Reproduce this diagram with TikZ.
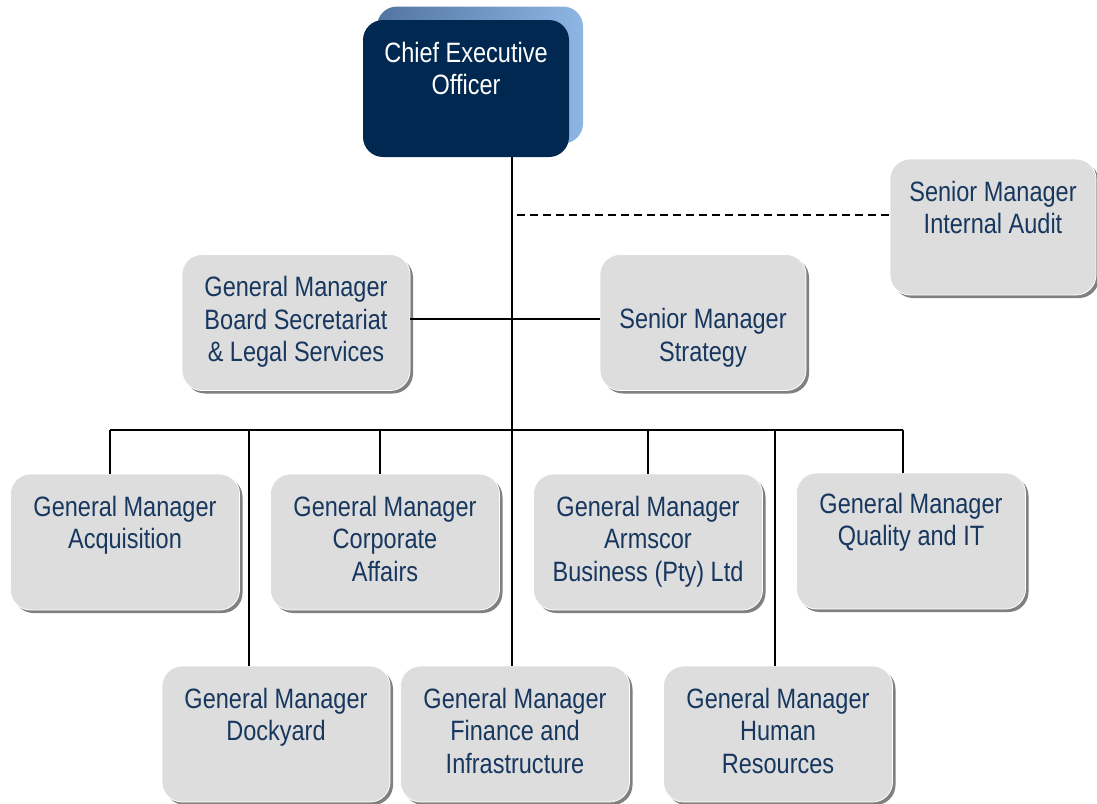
\documentclass[tikz,border=0pt]{standalone}
\usepackage{fontspec}
\setmainfont{Liberation Sans}[FakeStretch=0.84]
\usetikzlibrary{positioning,shadows,calc}
\definecolor{armnavy}{RGB}{0,40,80}
\definecolor{armtext}{RGB}{23,55,94}
\definecolor{armgrey}{RGB}{221,221,221}
\definecolor{armedge}{RGB}{142,182,228}
\definecolor{armtop}{RGB}{82,116,160}

\begin{document}
\begin{tikzpicture}[
      x=1pt, y=-1pt,
      card/.style={rounded corners=20pt, fill=armgrey, draw=white, line width=0.8pt, minimum width=229pt, minimum height=136pt, inner sep=0pt,
        drop shadow={shadow xshift=3pt, shadow yshift=-3pt, fill=black!50, opacity=1}},
      cardtext/.style={anchor=north, yshift=-22pt, align=center, text=armtext, inner sep=0pt, font=\fontsize{28}{32.5}\selectfont},
      ceobox/.style={rounded corners=20pt, fill=armnavy, minimum width=206pt, minimum height=137pt, inner sep=0pt},
      ceoback/.style={rounded corners=20pt, left color=armtop, right color=armedge, minimum width=206pt, minimum height=137pt, inner sep=0pt},
      link/.style={draw=black, line width=1.4pt},
      auditlink/.style={draw=black, line width=1.4pt, dash pattern=on 8pt off 5pt}
    ]
      \useasboundingbox (0,0) rectangle (1097,803);

      % CEO with its raised edge
      \node[ceoback] (ceoback) at (480,75) {};
      \node[ceobox, label={[cardtext, text=white]north:{Chief Executive\\Officer}}] (ceo) at (466,88.5) {};

      % staff positions
      \node[card, minimum width=206pt, label={[cardtext]north:{Senior Manager\\Internal Audit}}] (audit) at (993,227) {};
      \node[card, minimum width=228pt, label={[cardtext]north:{General Manager\\Board Secretariat\\\& Legal Services}}] (board) at (296,322.5) {};
      \node[card, minimum width=206pt, label={[cardtext, yshift=-32pt]north:{Senior Manager\\Strategy}}] (strat) at (703,322.5) {};

      % first row of divisions
      \node[card, label={[cardtext]north:{General Manager\\Acquisition}}] (acq) at (125,542) {};
      \node[card, label={[cardtext]north:{General Manager\\Corporate\\Affairs}}] (corp) at (385,542) {};
      \node[card, label={[cardtext]north:{General Manager\\Armscor\\Business (Pty) Ltd}}] (arm) at (648,542) {};
      \node[card, label={[cardtext, yshift=2pt]north:{General Manager\\Quality and IT}}] (qual) at (911,541) {};

      % second row of divisions
      \node[card, minimum width=228pt, label={[cardtext]north:{General Manager\\Dockyard}}] (dock) at (276,734) {};
      \node[card, label={[cardtext]north:{General Manager\\Finance and\\Infrastructure}}] (fin) at (515,734) {};
      \node[card, label={[cardtext]north:{General Manager\\Human\\Resources}}] (hr) at (778,734) {};

      % reporting lines
      \coordinate (bus) at (512,430);
      \coordinate (auditjoin) at (517,215);
      \draw[link] (ceo.south -| bus) -- (bus);
      \draw[link] (board.east |- 0,319) -- (strat.west |- 0,319);
      \draw[auditlink] (auditjoin) -- (auditjoin -| audit.west);
      \coordinate (busleft) at (110,430);
      \coordinate (busright) at (903,430);
      \draw[link] (busleft) -- (busright);
      \foreach \x/\n in {110/acq,249/dock,380/corp,512/fin,648/arm,775/hr,903/qual} {
        \coordinate (drop\n) at (\x,430);
        \draw[link] (drop\n) -- (drop\n |- \n.north);
      }
    \end{tikzpicture}
\end{document}
